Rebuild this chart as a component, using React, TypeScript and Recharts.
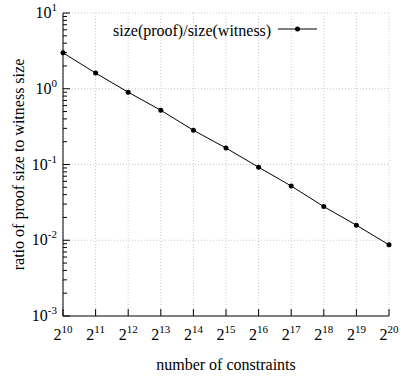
import { LineChart, Line, XAxis, YAxis, CartesianGrid, ReferenceLine } from 'recharts';

// log2 of the number of constraints
const exponents = [10, 11, 12, 13, 14, 15, 16, 17, 18, 19, 20];
// size(proof)/size(witness)
const ratios = [2.98, 1.61, 0.9, 0.52, 0.283, 0.165, 0.092, 0.052, 0.0278, 0.0158, 0.0087];

const decades = [-3, -2, -1, 0, 1];
const minorSteps = [2, 3, 4, 5, 6, 7, 8, 9];

const FONT = "'Liberation Serif', 'DejaVu Serif', serif";
const SERIES = 'size(proof)/size(witness)';

const data = exponents.map((e, i) => ({ exp: e, ratio: ratios[i] }));

const yTicks: number[] = [];
decades.forEach((d) => {
  yTicks.push(Math.pow(10, d));
  if (d < 1) minorSteps.forEach((m) => yTicks.push(m * Math.pow(10, d)));
});
const gridValues = decades.slice(1).map((d) => Math.pow(10, d));

function YTick(props: any) {
  const { x, y, payload } = props;
  const exp = Math.log10(payload.value);
  const major = Math.abs(exp - Math.round(exp)) < 1e-6;
  return (
    <g>
      <line x1={x} y1={y} x2={x + (major ? 7 : 4)} y2={y} stroke="#000" strokeWidth={1} />
      {major && (
        <text x={x - 6} y={y + 5} textAnchor="end" style={{ fontFamily: FONT }} fontSize={16} fill="#000">
          10<tspan dy={-7} fontSize={11}>{Math.round(exp)}</tspan>
        </text>
      )}
    </g>
  );
}

function XTick(props: any) {
  const { x, y, payload } = props;
  return (
    <g>
      <line x1={x} y1={y} x2={x} y2={y - 7} stroke="#000" strokeWidth={1} />
      <text x={x} y={y + 24} textAnchor="middle" style={{ fontFamily: FONT }} fontSize={16} fill="#000">
        2<tspan dy={-7} fontSize={11}>{payload.value}</tspan>
      </text>
    </g>
  );
}

// legend drawn as an overlay so it does not shrink the plot area
function LegendBox() {
  return (
    <svg width={401} height={50} style={{ position: 'absolute', left: 0, top: 0, pointerEvents: 'none' }}>
      <text x={113} y={36} style={{ fontFamily: FONT }} fontSize={16} fill="#000">
        {SERIES}
      </text>
      <line x1={278} y1={29} x2={317} y2={29} stroke="#000" strokeWidth={1} />
      <circle cx={297.5} cy={29} r={2.5} fill="#000" />
    </svg>
  );
}

export default function App() {
  return (
    <div style={{ position: 'absolute', left: 0, top: 0, width: 401, height: 381, background: '#fff', fontFamily: FONT }}>
      <LineChart width={401} height={381} data={data} margin={{ top: 13, right: 12, bottom: 0, left: 0 }}>
        <CartesianGrid horizontal={false} stroke="#c8c8c8" strokeDasharray="1 2" />
        {gridValues.map((v) => (
          <ReferenceLine key={v} y={v} stroke="#c8c8c8" strokeDasharray="1 2" />
        ))}
        <XAxis
          dataKey="exp"
          type="number"
          domain={[10, 20]}
          ticks={exponents}
          height={65}
          tickSize={0}
          tickMargin={0}
          tickLine={false}
          tick={<XTick />}
          axisLine={{ stroke: '#000', strokeWidth: 1 }}
          label={{
            content: (p: any) => (
              <text
                x={p.viewBox.x + p.viewBox.width / 2}
                y={370}
                textAnchor="middle"
                style={{ fontFamily: FONT }}
                fontSize={16}
                fill="#000"
              >
                number of constraints
              </text>
            ),
          }}
        />
        <YAxis
          scale="log"
          domain={[0.001, 10]}
          ticks={yTicks}
          allowDataOverflow
          width={63}
          tickSize={0}
          tickMargin={0}
          tickLine={false}
          interval={0}
          tick={<YTick />}
          axisLine={{ stroke: '#000', strokeWidth: 1 }}
          label={{
            content: (p: any) => {
              const cy = p.viewBox.y + p.viewBox.height / 2;
              return (
                <text
                  x={24}
                  y={cy}
                  transform={`rotate(-90, 24, ${cy})`}
                  textAnchor="middle"
                  style={{ fontFamily: FONT }}
                  fontSize={16}
                  fill="#000"
                >
                  ratio of proof size to witness size
                </text>
              );
            },
          }}
        />
        <Line
          dataKey="ratio"
          name={SERIES}
          stroke="#000"
          strokeWidth={1}
          dot={{ r: 2.5, fill: '#000', stroke: '#000', strokeWidth: 0 }}
          activeDot={false}
          isAnimationActive={false}
        />
      </LineChart>
      <LegendBox />
    </div>
  );
}
